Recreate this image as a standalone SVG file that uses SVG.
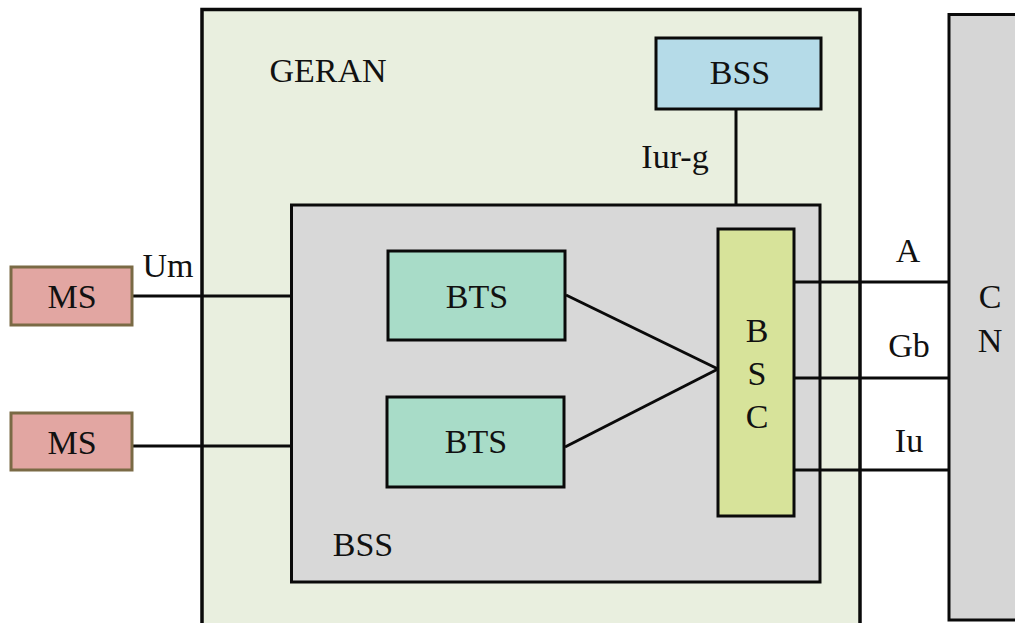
<svg xmlns="http://www.w3.org/2000/svg" width="1015" height="623" viewBox="0 0 1015 623">
<style>
text{font-family:"Liberation Serif","Times New Roman",serif;font-size:34px;fill:#111;text-anchor:middle}
.box{stroke:#0a0a0a;stroke-width:3}
.ln{stroke:#0a0a0a;stroke-width:3;fill:none}
</style>
<rect width="1015" height="623" fill="#fff"/>
<g id="GERAN">
<path d="M202,625 V9.5 H860 V625" fill="#e9efdf" stroke="#0a0a0a" stroke-width="3.5"/>
<text x="328" y="82">GERAN</text>
</g>
<g id="CN">
<path d="M949,620 V14.5 H1017 V620 Z" fill="#d6d6d6" stroke="#0a0a0a" stroke-width="3"/>
<text x="990" y="308">C</text>
<text x="990" y="352">N</text>
</g>
<g id="BSS_inner">
<rect class="box" x="291.5" y="205" width="528.5" height="377" fill="#d8d8d8"/>
<text x="363" y="556">BSS</text>
</g>
<g id="BSS_top">
<rect class="box" x="656" y="38" width="165" height="71" fill="#b5dbe8"/>
<text x="740" y="84">BSS</text>
</g>
<g id="connectors">
<line class="ln" x1="736" y1="109" x2="736" y2="205"/>
<line class="ln" x1="132" y1="296" x2="291" y2="296"/>
<line class="ln" x1="132" y1="446" x2="291" y2="446"/>
<line class="ln" x1="566" y1="295" x2="718" y2="369"/>
<line class="ln" x1="565" y1="447" x2="718" y2="369"/>
<line class="ln" x1="794" y1="282" x2="949" y2="282"/>
<line class="ln" x1="794" y1="378" x2="949" y2="378"/>
<line class="ln" x1="794" y1="470" x2="949" y2="470"/>
</g>
<g id="labels">
<text x="675" y="168">Iur-g</text>
<text x="168" y="277">Um</text>
<text x="908" y="262">A</text>
<text x="909" y="357">Gb</text>
<text x="909" y="452">Iu</text>
</g>
<g id="MS1">
<rect x="11" y="267" width="121" height="58" fill="#e2a6a2" stroke="#7a6a45" stroke-width="3"/>
<text x="72" y="308">MS</text>
</g>
<g id="MS2">
<rect x="11" y="413" width="121" height="57" fill="#e2a6a2" stroke="#7a6a45" stroke-width="3"/>
<text x="72" y="454">MS</text>
</g>
<g id="BTS1">
<rect class="box" x="388" y="251" width="177" height="89" fill="#a8dcc8"/>
<text x="477" y="308">BTS</text>
</g>
<g id="BTS2">
<rect class="box" x="387" y="397" width="177" height="90" fill="#a8dcc8"/>
<text x="476" y="453">BTS</text>
</g>
<g id="BSC">
<rect class="box" x="718" y="229" width="76" height="287" fill="#d7e39a"/>
<text x="757" y="342">B</text>
<text x="757" y="385">S</text>
<text x="757" y="428">C</text>
</g>
</svg>
